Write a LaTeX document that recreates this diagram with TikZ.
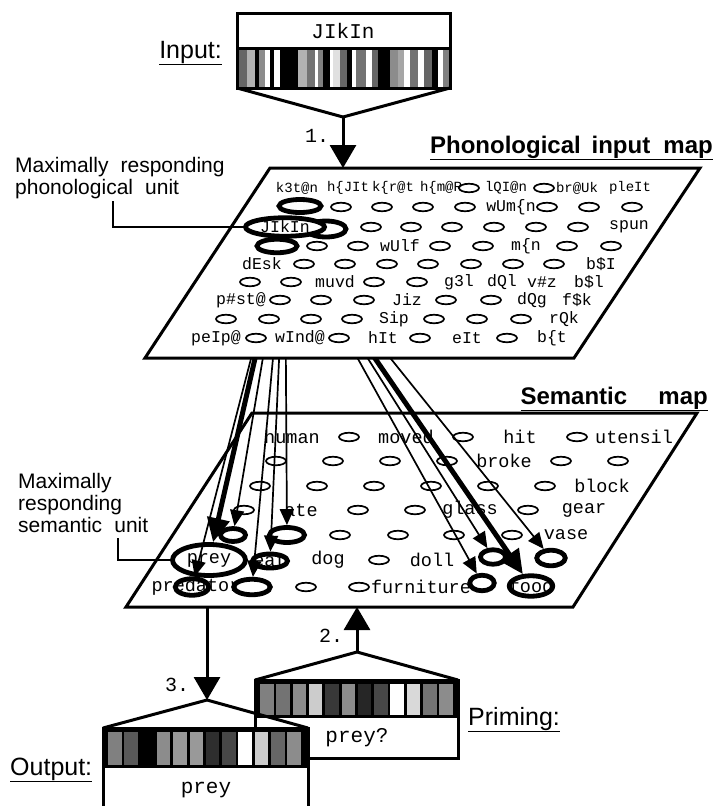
\documentclass[tikz,border=0pt]{standalone}
\usepackage{fontspec}
\setmainfont{Liberation Sans}
\newfontfamily\typefont{Liberation Mono}
\usetikzlibrary{positioning}
\usetikzlibrary{shapes.geometric}
\usetikzlibrary{arrows.meta}

\pgfdeclarelayer{semlayer}
\pgfdeclarelayer{linklayer}
\pgfsetlayers{semlayer,linklayer,main}

\begin{document}
\begin{tikzpicture}[x=1pt, y=-1pt,
  mapedge/.style={line width=3pt, fill=white},
  boxedge/.style={line width=3pt},
  unitell/.style={draw, ellipse, line width=1.7pt, minimum width=20pt, minimum height=8.5pt, inner sep=0pt},
  hotell/.style={draw, ellipse, line width=4.8pt, fill=white, inner sep=0pt},
  toplab/.style={font=\typefont\fontsize{14}{14}\selectfont, inner sep=0pt},
  phonlab/.style={font=\typefont\fontsize{16.5}{16.5}\selectfont, inner sep=0pt},
  semlab/.style={font=\typefont\fontsize{18.5}{18.5}\selectfont, inner sep=0pt},
  wordlab/.style={font=\typefont\fontsize{21}{21}\selectfont, inner sep=0pt},
  numlab/.style={font=\typefont\fontsize{20}{20}\selectfont, inner sep=0pt},
  headlab/.style={font=\bfseries\fontsize{24}{24}\selectfont, inner sep=0pt},
  taglab/.style={font=\fontsize{25}{25}\selectfont, inner sep=0pt},
  notelab/.style={font=\fontsize{21}{22}\selectfont, align=left, inner sep=0pt},
  leadline/.style={line width=1.5pt},
  linkarr/.style={line width=1.7pt, -{Triangle[length=16pt, width=14pt]}},
  biglinkarr/.style={line width=5pt, -{Triangle[length=24pt, width=22pt]}},
  flowarr/.style={line width=3pt, -{Triangle[length=23pt, width=26pt]}}
]
% Set the size of the figure
\useasboundingbox (0,0) rectangle (722,806);
\clip (0,0) rectangle (722,806);

% Input word and its code
\fill[black!60] (237,48) rectangle (247,88);
\fill[black!30] (247,48) rectangle (255,88);
\fill[black] (255,48) rectangle (259,88);
\fill[black!45] (259,48) rectangle (265,88);
\fill[black] (270,48) rectangle (274,88);
\fill[black] (280,48) rectangle (298,88);
\fill[black!30] (298,48) rectangle (307,88);
\fill[black!55] (307,48) rectangle (315,88);
\fill[black!50] (318,48) rectangle (323,88);
\fill[black] (323,48) rectangle (330,88);
\fill[black!12] (333,48) rectangle (340,88);
\fill[black!60] (340,48) rectangle (347,88);
\fill[black] (347,48) rectangle (352,88);
\fill[black!55] (356,48) rectangle (366,88);
\fill[black!60] (372,48) rectangle (378,88);
\fill[black] (378,48) rectangle (390,88);
\fill[black!45] (390,48) rectangle (398,88);
\fill[black!35] (398,48) rectangle (404,88);
\fill[black!55] (410,48) rectangle (418,88);
\fill[black!60] (424,48) rectangle (432,88);
\fill[black] (432,48) rectangle (438,88);
\fill[black!50] (443,48) rectangle (450,88);
\draw[boxedge] (237,13) rectangle (450,88);
\draw[boxedge] (237,48) -- (450,48);
\node[wordlab] (inword) at (343,31) {JIkIn};
\node[taglab, anchor=base east] (intag) at (222,58) {\underline{Input:}};
\coordinate (inapex) at (343,117);
\draw[boxedge] (237,88) -- (inapex) -- (450,88);
\coordinate (phontop) at (343,168);
\draw[flowarr] (inapex) -- (phontop);
\node[numlab] (one) at (317,136) {1.};

% Phonological input map
\node[headlab, anchor=base east] (phonhead) at (713,153) {\underline{Phonological\hspace{0.45em}input\hspace{0.55em}map}};
\draw[mapedge] (270,168) -- (700,168) -- (574,358) -- (145,358) -- cycle;
\node[toplab] (pa0) at (297,188) {k3t@n};
\node[toplab] (pa1) at (348,188) {h\{JIt};
\node[toplab] (pa2) at (393,188) {k\{r@t};
\node[toplab] (pa3) at (441,188) {h\{m@R};
\node[unitell] (pa4) at (469,188) {};
\node[toplab] (pa5) at (506,188) {lQI@n};
\node[unitell] (pa6) at (544,188) {};
\node[toplab] (pa7) at (577,188) {br@Uk};
\node[toplab] (pa8) at (630,188) {pleIt};
\node[hotell, minimum width=42pt, minimum height=13pt] (pb0) at (300,206) {};
\node[unitell] (pb1) at (341,207) {};
\node[unitell] (pb2) at (382,207) {};
\node[unitell] (pb3) at (423,207) {};
\node[unitell] (pb4) at (465,207) {};
\node[phonlab] (pb5) at (511,207) {wUm\{n};
\node[unitell] (pb6) at (547,207) {};
\node[unitell] (pb7) at (589,207) {};
\node[unitell] (pb8) at (632,207) {};
\node[hotell, minimum width=40pt, minimum height=16pt] (pc1) at (326,229) {};
\node[unitell] (pc2) at (371,227) {};
\node[unitell] (pc3) at (411,227) {};
\node[unitell] (pc4) at (452,227) {};
\node[unitell] (pc5) at (494,227) {};
\node[unitell] (pc6) at (536,227) {};
\node[unitell] (pc7) at (578,227) {};
\node[phonlab] (pc8) at (629,227) {spun};
\node[hotell, minimum width=40pt, minimum height=13.5pt] (pd0) at (277,246) {};
\node[unitell] (pd1) at (317,246) {};
\node[unitell] (pd2) at (358,246) {};
\node[phonlab] (pd3) at (400,246) {wUlf};
\node[unitell] (pd4) at (440,246) {};
\node[unitell] (pd5) at (483,246) {};
\node[phonlab] (pd6) at (526,246) {m\{n};
\node[unitell] (pd7) at (567,246) {};
\node[unitell] (pd8) at (611,246) {};
\node[hotell, minimum width=79pt, minimum height=18.5pt] (pc0) at (285,227) {};
\node[phonlab] (pc0t) at (285,227) {JIkIn};
\node[phonlab] (pe0) at (262,264) {dEsk};
\node[unitell] (pe1) at (304,264) {};
\node[unitell] (pe2) at (345,264) {};
\node[unitell] (pe3) at (387,264) {};
\node[unitell] (pe4) at (428,264) {};
\node[unitell] (pe5) at (471,264) {};
\node[unitell] (pe6) at (513,264) {};
\node[unitell] (pe7) at (554,264) {};
\node[phonlab] (pe8) at (601,264) {b\$I};
\node[unitell] (pf0) at (250,282) {};
\node[unitell] (pf1) at (291,282) {};
\node[phonlab] (pf2) at (335,282) {muvd};
\node[unitell] (pf3) at (374,282) {};
\node[unitell] (pf4) at (417,282) {};
\node[phonlab] (pf5) at (459,282) {g3l};
\node[phonlab] (pf6) at (502,282) {dQl};
\node[phonlab] (pf7) at (542,282) {v\#z};
\node[phonlab] (pf8) at (589,282) {b\$l};
\node[phonlab] (pg0) at (241,300) {p\#st@};
\node[unitell] (pg1) at (280,300) {};
\node[unitell] (pg2) at (321,300) {};
\node[unitell] (pg3) at (364,300) {};
\node[phonlab] (pg4) at (407,300) {Jiz};
\node[unitell] (pg5) at (446,300) {};
\node[unitell] (pg6) at (491,300) {};
\node[phonlab] (pg7) at (532,300) {dQg};
\node[phonlab] (pg8) at (577,300) {f\$k};
\node[unitell] (ph0) at (226,319) {};
\node[unitell] (ph1) at (269,319) {};
\node[unitell] (ph2) at (311,319) {};
\node[unitell] (ph3) at (352,319) {};
\node[phonlab] (ph4) at (394,319) {Sip};
\node[unitell] (ph5) at (434,319) {};
\node[unitell] (ph6) at (477,319) {};
\node[unitell] (ph7) at (521,319) {};
\node[phonlab] (ph8) at (564,319) {rQk};
\node[phonlab] (pi0) at (216,338) {peIp@};
\node[unitell] (pi1) at (256,338) {};
\node[phonlab] (pi2) at (300,338) {wInd@};
\node[unitell] (pi3) at (339,338) {};
\node[phonlab] (pi4) at (383,338) {hIt};
\node[unitell] (pi5) at (420,338) {};
\node[phonlab] (pi6) at (467,338) {eIt};
\node[unitell] (pi7) at (507,338) {};
\node[phonlab] (pi8) at (552,338) {b\{t};
\node[notelab, anchor=north west] (phonnote) at (15,157) {Maximally\hspace{0.3em} responding\\phonological\hspace{0.3em} unit};
\coordinate (phonlead) at (113,201);
\draw[leadline] (phonlead) |- (pc0);

% Semantic map
\begin{pgfonlayer}{semlayer}
\node[headlab, anchor=base east] (semhead) at (708,404) {\underline{Semantic\hspace{1.3em}map}};
\draw[mapedge] (252,413) -- (697,413) -- (573,607) -- (126,607) -- cycle;
\node[semlab] (s10) at (292,437) {human};
\node[unitell] (s11) at (349,437) {};
\node[semlab] (s12) at (406,437) {moved};
\node[unitell] (s13) at (463,437) {};
\node[semlab] (s14) at (520,437) {hit};
\node[unitell] (s15) at (577,437) {};
\node[semlab] (s16) at (634,437) {utensil};
\node[unitell] (s20) at (276,461) {};
\node[unitell] (s21) at (333,461) {};
\node[unitell] (s22) at (390,461) {};
\node[unitell] (s23) at (447,461) {};
\node[semlab] (s24) at (504,461) {broke};
\node[unitell] (s25) at (561,461) {};
\node[unitell] (s26) at (618,461) {};
\node[unitell] (s30) at (260,486) {};
\node[unitell] (s31) at (317,486) {};
\node[unitell] (s32) at (374,486) {};
\node[unitell] (s33) at (431,486) {};
\node[unitell] (s34) at (488,486) {};
\node[unitell] (s35) at (545,486) {};
\node[semlab] (s36) at (602,486) {block};
\node[unitell] (s40) at (244,510) {};
\node[semlab] (s41) at (301,510) {ate};
\node[unitell] (s42) at (358,510) {};
\node[unitell] (s43) at (415,510) {};
\node[semlab] (s44) at (470,510) {glass};
\node[unitell] (s45) at (528,510) {};
\node[semlab] (s46) at (584,510) {gear};
\node[hotell, minimum width=25pt, minimum height=13pt] (s50) at (233,535) {};
\node[hotell, minimum width=35pt, minimum height=15pt] (s51) at (287,535) {};
\node[unitell] (s52) at (340,535) {};
\node[unitell] (s53) at (398,535) {};
\node[unitell] (s54) at (454,535) {};
\node[unitell] (s55) at (512,535) {};
\node[semlab] (s56) at (566,535) {vase};
\node[hotell, minimum width=73pt, minimum height=31pt] (s60) at (209,560) {};
\node[semlab] (s60t) at (209,560) {prey};
\node[hotell, minimum width=35pt, minimum height=14pt] (s61) at (270,561) {};
\node[semlab] (s61t) at (270,560) {eat};
\node[semlab] (s62) at (328,560) {dog};
\node[unitell] (s63) at (379,560) {};
\node[semlab] (s64) at (432,560) {doll};
\node[hotell, minimum width=25pt, minimum height=14.5pt] (s65) at (493,557) {};
\node[hotell, minimum width=28.5pt, minimum height=15.5pt] (s66) at (551,558) {};
\node[hotell, minimum width=33.5pt, minimum height=16.5pt] (s70) at (192,587) {};
\node[semlab] (s70t) at (196,587) {predator};
\node[hotell, minimum width=36.5pt, minimum height=15.5pt] (s71) at (252,587) {};
\node[unitell] (s72) at (306,587) {};
\node[unitell] (s73) at (359,587) {};
\node[semlab] (s74) at (421,587) {furniture};
\node[hotell, minimum width=24.5pt, minimum height=15.5pt] (s75) at (482,583) {};
\node[hotell, minimum width=43.5pt, minimum height=20.5pt] (s76) at (531,586) {};
\node[semlab] (s76t) at (531,586) {food};
\node[notelab, anchor=north west] (semnote) at (18,473) {Maximally\\responding\\semantic\hspace{0.3em} unit};
\coordinate (semlead) at (118,538);
\draw[leadline] (semlead) |- (s60);
\end{pgfonlayer}

% Links from the winning phonological unit
\begin{pgfonlayer}{linklayer}
\draw[biglinkarr] (pc0) -- (s60);
\draw[linkarr] (pc0) -- (s50);
\draw[linkarr] (pc0) -- (s51);
\draw[linkarr] (pc0) -- (s61);
\draw[linkarr] (pc0) -- (s70);
\draw[linkarr] (pc0) -- (s71);
\draw[linkarr] (pc0) -- (s65);
\draw[linkarr] (pc0) -- (s66);
\draw[linkarr] (pc0) -- (s75);
\draw[biglinkarr] (pc0) -- (s76);
\end{pgfonlayer}

% Priming input
\fill[black] (255,680) rectangle (458,718);
\fill[black!50] (260.0,684) rectangle (273.5,715);
\fill[black!55] (276.3,684) rectangle (289.8,715);
\fill[black!45] (292.6,684) rectangle (306.1,715);
\fill[black!20] (308.9,684) rectangle (322.4,715);
\fill[black!78] (325.2,684) rectangle (338.7,715);
\fill[black!45] (341.5,684) rectangle (355.0,715);
\fill[black!85] (357.8,684) rectangle (371.3,715);
\fill[black!72] (374.1,684) rectangle (387.6,715);
\fill[white] (390.4,684) rectangle (403.9,715);
\fill[black!15] (406.7,684) rectangle (420.2,715);
\fill[black!55] (423.0,684) rectangle (436.5,715);
\fill[black!45] (439.3,684) rectangle (452.8,715);
\draw[boxedge] (255,680) rectangle (458,758);
\node[wordlab] (primeword) at (357,738) {prey?};
\node[taglab, anchor=base west] (primetag) at (468,725) {\underline{Priming:}};
\coordinate (primeapex) at (357,652);
\draw[boxedge] (255,680) -- (primeapex) -- (458,680);
\coordinate (sembot) at (357,607);
\draw[flowarr] (primeapex) -- (sembot);
\node[numlab] (two) at (331,636) {2.};

% Output
\fill[white] (103,728) rectangle (308,815);
\fill[black] (103,728) rectangle (308,768);
\fill[black!50] (108.0,732) rectangle (121.5,765);
\fill[black!65] (124.3,732) rectangle (137.8,765);
\fill[black!45] (156.9,732) rectangle (170.4,765);
\fill[black!40] (173.2,732) rectangle (186.7,765);
\fill[black!40] (189.5,732) rectangle (203.0,765);
\fill[black!82] (205.8,732) rectangle (219.3,765);
\fill[black!72] (222.1,732) rectangle (235.6,765);
\fill[white] (238.4,732) rectangle (251.9,765);
\fill[black!20] (254.7,732) rectangle (268.2,765);
\fill[black!60] (271.0,732) rectangle (284.5,765);
\fill[black!45] (287.3,732) rectangle (300.8,765);
\draw[boxedge] (103,728) rectangle (308,815);
\node[wordlab] (outword) at (206,790) {prey};
\node[taglab, anchor=base west] (outtag) at (10,775) {\underline{Output:}};
\coordinate (outapex) at (207,700);
\draw[boxedge] (103,728) -- (outapex) -- (308,728);
\coordinate (semout) at (207,607);
\draw[flowarr] (semout) -- (outapex);
\node[numlab] (three) at (177,685) {3.};
\end{tikzpicture}
\end{document}
